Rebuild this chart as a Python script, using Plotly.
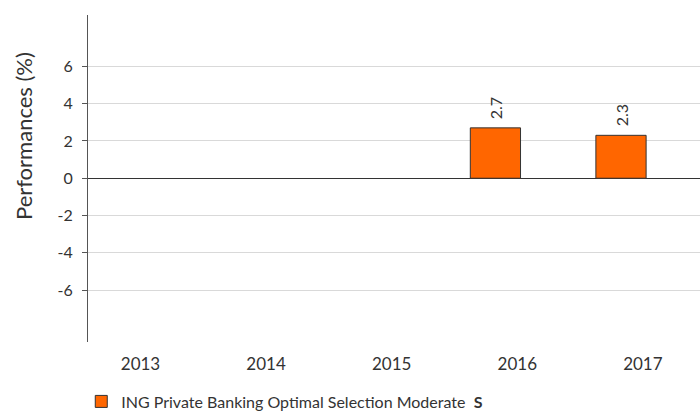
import plotly.graph_objects as go

years = ["2013", "2014", "2015", "2016", "2017"]
values = [None, None, None, 2.7, 2.3]
labels = ["", "", "", "2.7", "2.3"]
series_name = "ING Private Banking Optimal Selection Moderate  <b>S</b>"
y_ticks = [-6, -4, -2, 0, 2, 4, 6]
y_tick_text = ["-6", "-4", "-2", "0", "2", "4", "6"]
y_title = "Performances (%)"

FONT = "Lato, 'Noto Sans', sans-serif"
BAR_W = 0.40
BAR_OFF = -0.374

fig = go.Figure()
fig.add_trace(go.Bar(
    x=years, y=values, name=series_name,
    marker=dict(color="#FF6600", line=dict(color="#333333", width=1)),
    width=BAR_W, offset=BAR_OFF,
    cliponaxis=False,
))

annotations = []
cats = list(range(len(years)))
for i, (v, t) in enumerate(zip(values, labels)):
    if v is None:
        continue
    annotations.append(dict(
        x=cats[i] + BAR_OFF + BAR_W / 2, y=v, xref="x", yref="y",
        text=t, textangle=-90, showarrow=False,
        xanchor="center", yanchor="bottom", yshift=7,
        font=dict(size=16, color="#333333", family=FONT),
    ))
annotations.append(dict(
    x=-0.1046, y=0.63, xref="paper", yref="paper",
    text=y_title, textangle=-90, showarrow=False,
    xanchor="center", yanchor="middle",
    font=dict(size=22, color="#333333", family=FONT),
))

fig.update_layout(
    width=700, height=414,
    margin=dict(l=88, r=0, t=15, b=72, autoexpand=False),
    paper_bgcolor="white", plot_bgcolor="white",
    font=dict(family=FONT, color="#333333", size=15),
    showlegend=True,
    legend=dict(orientation="h", x=-0.011, xanchor="left", y=-0.13, yanchor="top",
                font=dict(size=16, color="#333333"),
                bgcolor="rgba(0,0,0,0)"),
    xaxis=dict(type="linear", range=[-0.418, 4.455], showgrid=False,
               tickvals=cats, ticktext=years,
               showline=False, ticks="", tickfont=dict(size=17),
               ticklabelstandoff=10),
    yaxis=dict(range=[-8.78, 8.75], tickvals=y_ticks, ticktext=y_tick_text,
               showgrid=True, gridcolor="#d9d9d9", gridwidth=1,
               zeroline=True, zerolinecolor="#333333", zerolinewidth=1,
               showline=True, linecolor="#555555", linewidth=1,
               ticks="outside", ticklen=5, tickcolor="#555555",
               tickfont=dict(size=16), ticklabelstandoff=6),
    annotations=annotations,
)
fig.data[0].x = cats

fig.write_html("out.html", config={"displayModeBar": False},
               post_script="document.body.style.margin='0';document.body.style.overflow='hidden';")
